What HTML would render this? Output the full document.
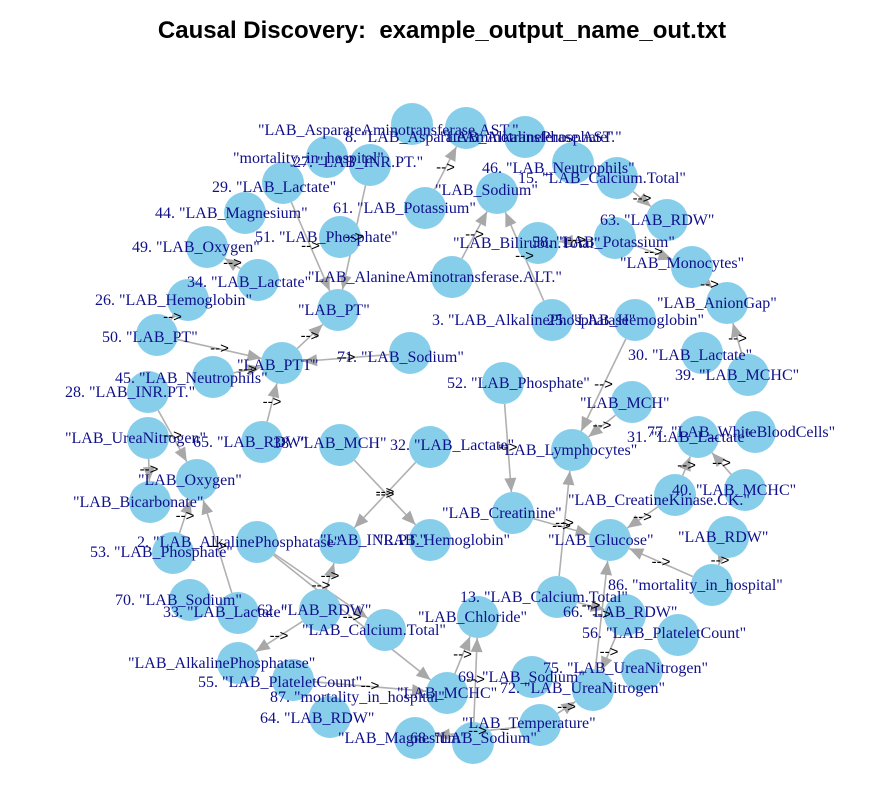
<!DOCTYPE html>
<html><head><meta charset="utf-8">
<style>
body{margin:0;background:#fff;width:884px;height:803px;overflow:hidden}
svg{display:block}
.t{font-family:"Liberation Sans",sans-serif;font-weight:bold;font-size:24px;white-space:pre}
.lb{font-family:"Liberation Serif",serif;font-size:16px;fill:#10108a}
.ar{font-family:"Liberation Sans",sans-serif;font-size:15px;fill:#000}
</style></head>
<body>
<svg id="chart" width="884" height="803" viewBox="0 0 884 803">
<text class="t" x="442" y="38" text-anchor="middle" xml:space="preserve">Causal Discovery:  example_output_name_out.txt</text>
<g id="edges"></g>
<g id="nodes"></g>
<g id="labels"></g>
<g id="arrows"></g>
</svg>
<script>
const nodeX=[412,466,525,573,617,497,425,667,538,615,692,452,727,552,635,702,748,503,632,327,370,283,245,340,207,258,188,338,157,410,282,213,148,148,262,340,430,197,150,257,173,340,430,190,238,320,385,238,293,330,447,415,473,572,698,755,513,610,675,745,728,712,557,625,678,642,593,532,540,478];
const nodeY=[124,128,137,163,178,193,208,220,243,238,267,277,303,320,320,353,375,383,402,157,165,183,213,237,247,280,300,310,335,353,363,377,392,438,442,445,447,480,502,542,553,543,540,600,613,610,630,663,680,717,693,738,743,450,437,432,513,540,495,490,537,585,597,615,635,670,690,677,725,617];
const edgeFrom=[20,21,30,28,31,29,11,13,6,9,4,9,10,16,14,18,17,56,62,59,58,58,61,60,66,63,62,50,52,68,68,45,39,35,36,40,44,33,32,45,39,48,34,26,25];
const edgeTo=[27,27,27,30,30,30,5,5,1,8,7,10,12,12,53,53,56,57,53,54,54,57,57,61,57,66,63,69,69,51,66,41,46,42,41,37,37,38,37,47,50,50,30,28,24];
const labelText=['"LAB_AsparateAminotransferase.AST."','8. "LAB_AsparateAminotransferase.AST."','"LAB_AlkalinePhosphate"','"mortality_in_hospital"','27. "LAB_INR.PT."','29. "LAB_Lactate"','44. "LAB_Magnesium"','61. "LAB_Potassium"','49. "LAB_Oxygen"','51. "LAB_Phosphate"','34. "LAB_Lactate"','"LAB_AlanineAminotransferase.ALT."','26. "LAB_Hemoglobin"','"LAB_PT"','50. "LAB_PT"','"LAB_PTT"','71. "LAB_Sodium"','45. "LAB_Neutrophils"','28. "LAB_INR.PT."','46. "LAB_Neutrophils"','15. "LAB_Calcium.Total"','"LAB_Sodium"','63. "LAB_RDW"','"LAB_Bilirubin.Total"','58. "LAB_Potassium"','"LAB_Monocytes"','"LAB_AnionGap"','3. "LAB_AlkalinePhosphatase"','25. "LAB_Hemoglobin"','30. "LAB_Lactate"','39. "LAB_MCHC"','52. "LAB_Phosphate"','"LAB_MCH"','"LAB_UreaNitrogen"','65. "LAB_RDW"','38. "LAB_MCH"','32. "LAB_Lactate"','"LAB_Oxygen"','"LAB_Bicarbonate"','2. "LAB_AlkalinePhosphatase"','53. "LAB_Phosphate"','"LAB_INR.PT."','"LAB_Hemoglobin"','70. "LAB_Sodium"','33. "LAB_Lactate"','62. "LAB_RDW"','"LAB_Calcium.Total"','"LAB_AlkalinePhosphatase"','55. "LAB_PlateletCount"','87. "mortality_in_hospital"','64. "LAB_RDW"','"LAB_Magnesium"','"LAB_MCHC"','"LAB_Lymphocytes"','31. "LAB_Lactate"','77. "LAB_WhiteBloodCells"','"LAB_Creatinine"','"LAB_CreatineKinase.CK."','40. "LAB_MCHC"','"LAB_Glucose"','"LAB_RDW"','86. "mortality_in_hospital"','13. "LAB_Calcium.Total"','"LAB_Chloride"','66. "LAB_RDW"','56. "LAB_PlateletCount"','75. "LAB_UreaNitrogen"','69. "LAB_Sodium"','72. "LAB_UreaNitrogen"','"LAB_Temperature"','68. "LAB_Sodium"'];
const labelX=[258,345,440,233,293,212,155,333,132,255,187,308,95,298,102,237,337,115,65,482,518,435,600,453,532,620,657,432,547,628,675,447,580,65,193,273,390,138,73,137,90,320,377,115,163,257,302,128,198,270,260,338,397,498,627,647,442,568,672,548,678,608,460,418,563,582,543,458,500,462,410];
const labelY=[130,137,137,158,162,187,213,208,247,237,282,277,300,310,337,365,357,378,392,168,178,190,220,243,242,263,303,320,320,355,375,383,403,438,442,443,445,480,502,542,552,540,540,600,612,610,630,663,682,697,718,738,693,450,437,432,513,500,490,540,537,585,597,617,612,633,668,677,688,723,738];
const NS='http://www.w3.org/2000/svg';
const R=21;
const eg=document.getElementById('edges'),ng=document.getElementById('nodes'),lg=document.getElementById('labels'),ag=document.getElementById('arrows');
function sx(i){return nodeX[i];} function sy(i){return nodeY[i];}
for(let k=0;k<edgeFrom.length;k++){
  const a=edgeFrom[k],b=edgeTo[k];
  const x1=sx(a),y1=sy(a),x2=sx(b),y2=sy(b);
  const dx=x2-x1,dy=y2-y1,L=Math.hypot(dx,dy)||1,ux=dx/L,uy=dy/L;
  const ex=x2-ux*R,ey=y2-uy*R;
  const ln=document.createElementNS(NS,'line');
  
  
  ln.setAttribute('x1',x1+ux*R);ln.setAttribute('y1',y1+uy*R);ln.setAttribute('x2',ex);ln.setAttribute('y2',ey);
  ln.setAttribute('stroke','#b0b0b0');ln.setAttribute('stroke-width','1.6');
  eg.appendChild(ln);
  const hx=ex-ux*14,hy=ey-uy*14,px=-uy*6,py=ux*6;
  const tri=document.createElementNS(NS,'polygon');
  
  
  tri.setAttribute('points',`${ex},${ey} ${hx+px},${hy+py} ${hx-px},${hy-py}`);
  tri.setAttribute('fill','#a8a8a8');
  eg.appendChild(tri);
  const t=document.createElementNS(NS,'text');
  
  
  t.setAttribute('class','ar');t.setAttribute('x',(x1+x2)/2);t.setAttribute('y',(y1+y2)/2+4);t.setAttribute('text-anchor','middle');
  t.textContent='-->';
  ag.appendChild(t);
}
for(let i=0;i<nodeX.length;i++){
  const c=document.createElementNS(NS,'circle');
  
  
  c.setAttribute('cx',nodeX[i]);c.setAttribute('cy',nodeY[i]);c.setAttribute('r',R);c.setAttribute('fill','#87ceeb');
  ng.appendChild(c);
}
for(let i=0;i<labelText.length;i++){
  const t=document.createElementNS(NS,'text');
  
  
  t.setAttribute('class','lb');t.setAttribute('x',labelX[i]);t.setAttribute('y',labelY[i]+5);
  t.textContent=labelText[i];
  lg.appendChild(t);
}
</script>
</body></html>
